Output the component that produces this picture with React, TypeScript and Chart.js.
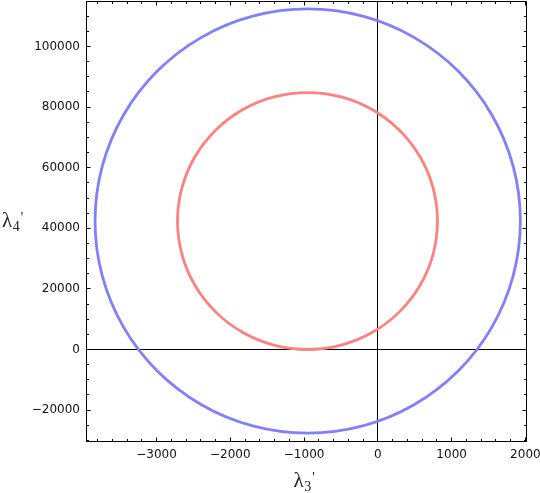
import React, { useEffect, useRef } from "react";
import { Chart, registerables } from "chart.js";

Chart.register(...registerables);

// Tick values
const X_TICKS = [-3000, -2000, -1000, 0, 1000, 2000];
const Y_TICKS = [-20000, 0, 20000, 40000, 60000, 80000, 100000];
const X_MINOR_STEP = 200;
const Y_MINOR_STEP = 5000;
const X_MIN = -3950;
const X_MAX = 2015;
const Y_MIN = -30360;
const Y_MAX = 114850;

// Outer (blue) curve points
const OUTER_X = [1932, 1834, 1546, 1088, 490, -205, -951, -1697, -2392, -2990, -3448, -3736, -3834, -3736, -3448, -2990, -2392, -1697, -951, -205, 490, 1088, 1546, 1834];
const OUTER_Y = [42400, 60516, 77400, 91897, 103022, 110013, 112400, 110013, 103022, 91897, 77400, 60516, 42400, 24284, 7400, -7097, -18222, -25213, -27600, -25213, -18222, -7097, 7400, 24284];

// Inner (red) curve points
const INNER_X = [808, 748, 572, 292, -73, -498, -954, -1410, -1835, -2200, -2480, -2656, -2716, -2656, -2480, -2200, -1835, -1410, -954, -498, -73, 292, 572, 748];
const INNER_Y = [42400, 53373, 63600, 72381, 79118, 83354, 84800, 83354, 79118, 72381, 63600, 53373, 42400, 31427, 21200, 12419, 5682, 1446, 0, 1446, 5682, 12419, 21200, 31427];

const BLUE = "rgb(128,128,250)";
const RED = "rgb(255,128,128)";

function toPoints(xs: number[], ys: number[]) {
  return xs.map((x, i) => ({ x, y: ys[i] }));
}

function fmt(v: number) {
  return v < 0 ? "\u2212" + Math.abs(v) : String(v);
}

function drawLambda(ctx: CanvasRenderingContext2D, x: number, y: number, sub: string) {
  ctx.fillStyle = "#222";
  ctx.textBaseline = "alphabetic";
  ctx.textAlign = "left";
  ctx.font = "21px 'Liberation Serif', 'DejaVu Serif', serif";
  ctx.fillText("\u03bb", x, y);
  const w = ctx.measureText("\u03bb").width;
  ctx.font = "14px 'Liberation Serif', 'DejaVu Serif', serif";
  ctx.fillText(sub, x + w + 0.5, y + 3.5);
  const w2 = ctx.measureText(sub).width;
  ctx.fillText("'", x + w + w2 + 1.5, y - 5.5);
}

// Make every line a closed loop, so the spline wraps smoothly.
const loopPlugin = {
  id: "closedLoops",
  afterDatasetsUpdate(chart: any) {
    chart.data.datasets.forEach((_d: any, i: number) => {
      const line = chart.getDatasetMeta(i).dataset;
      if (!line) return;
      line._loop = true;
      line._fullLoop = true;
      line._pointsUpdated = false;
      delete line._segments;
      line._path = undefined;
    });
  },
};

const framePlugin = {
  id: "mmaFrame",
  beforeDatasetsDraw(chart: any) {
    const { ctx, chartArea, scales } = chart;
    const { left, right, top, bottom } = chartArea;
    const xs = scales.x;
    const ys = scales.y;
    ctx.save();
    ctx.strokeStyle = "#000";
    ctx.lineWidth = 1;
    const px0 = Math.floor(xs.getPixelForValue(0)) + 0.5;
    const py0 = Math.floor(ys.getPixelForValue(0)) + 0.5;
    ctx.beginPath();
    ctx.moveTo(px0, top);
    ctx.lineTo(px0, bottom);
    ctx.moveTo(left, py0);
    ctx.lineTo(right, py0);
    ctx.stroke();
    ctx.restore();
  },
  afterDatasetsDraw(chart: any) {
    const { ctx, chartArea, scales } = chart;
    const { left, right, top, bottom } = chartArea;
    const xs = scales.x;
    const ys = scales.y;
    ctx.save();
    ctx.strokeStyle = "#000";
    ctx.lineWidth = 1;
    ctx.beginPath();
    const xStart = Math.ceil(X_MIN / X_MINOR_STEP) * X_MINOR_STEP;
    for (let v = xStart; v <= X_MAX; v += X_MINOR_STEP) {
      const major = X_TICKS.includes(v);
      const len = major ? 4 : 2.5;
      const p = Math.floor(xs.getPixelForValue(v)) + 0.5;
      ctx.moveTo(p, bottom);
      ctx.lineTo(p, bottom - len);
      ctx.moveTo(p, top);
      ctx.lineTo(p, top + len);
    }
    const yStart = Math.ceil(Y_MIN / Y_MINOR_STEP) * Y_MINOR_STEP;
    for (let v = yStart; v <= Y_MAX; v += Y_MINOR_STEP) {
      const major = Y_TICKS.includes(v);
      const len = major ? 4 : 2.5;
      const p = Math.floor(ys.getPixelForValue(v)) + 0.5;
      ctx.moveTo(left, p);
      ctx.lineTo(left + len, p);
      ctx.moveTo(right, p);
      ctx.lineTo(right - len, p);
    }
    ctx.stroke();
    ctx.strokeRect(left, top, right - left, bottom - top);
    ctx.restore();
  },
  afterDraw(chart: any) {
    const { ctx, chartArea } = chart;
    const cx = (chartArea.left + chartArea.right) / 2;
    ctx.save();
    drawLambda(ctx, cx - 13, 487, "3");
    drawLambda(ctx, 2, 227, "4");
    ctx.restore();
  },
};

export default function App() {
  const ref = useRef<HTMLCanvasElement | null>(null);
  useEffect(() => {
    if (!ref.current) return;
    const tickFont = { family: "'DejaVu Sans', Verdana, sans-serif", size: 12 };
    const chart = new Chart(ref.current, {
      type: "line",
      data: {
        datasets: [
          {
            label: "outer",
            data: toPoints(OUTER_X, OUTER_Y),
            borderColor: BLUE,
            borderWidth: 2.8,
            pointRadius: 0,
            tension: 0.34,
            fill: false,
          },
          {
            label: "inner",
            data: toPoints(INNER_X, INNER_Y),
            borderColor: RED,
            borderWidth: 2.8,
            pointRadius: 0,
            tension: 0.34,
            fill: false,
          },
        ],
      },
      options: {
        animation: false,
        responsive: false,
        layout: { padding: { top: 1.5, right: 13.5, left: 0, bottom: 0 } },
        plugins: { legend: { display: false }, tooltip: { enabled: false } },
        scales: {
          x: {
            type: "linear",
            min: X_MIN,
            max: X_MAX,
            border: { display: false },
            grid: { display: false, drawTicks: false },
            afterBuildTicks: (s: any) => {
              s.ticks = X_TICKS.map((v) => ({ value: v }));
            },
            afterFit: (s: any) => {
              s.height = 51.5;
              s.paddingLeft = 0;
              s.paddingRight = 0;
            },
            ticks: {
              font: tickFont,
              color: "#111",
              padding: 6,
              maxRotation: 0,
              autoSkip: false,
              callback: (v: any) => fmt(Number(v)),
            },
          },
          y: {
            type: "linear",
            min: Y_MIN,
            max: Y_MAX,
            border: { display: false },
            grid: { display: false, drawTicks: false },
            afterBuildTicks: (s: any) => {
              s.ticks = Y_TICKS.map((v) => ({ value: v }));
            },
            afterFit: (s: any) => {
              s.width = 86.5;
              s.paddingTop = 0;
              s.paddingBottom = 0;
            },
            ticks: {
              font: tickFont,
              color: "#111",
              padding: 6.5,
              autoSkip: false,
              callback: (v: any) => fmt(Number(v)),
            },
          },
        },
      },
      plugins: [loopPlugin, framePlugin],
    });
    return () => chart.destroy();
  }, []);
  return (
    <div style={{ position: "fixed", left: 0, top: 0, width: 540, height: 493, background: "#fff" }}>
      <canvas ref={ref} width={540} height={493} style={{ display: "block" }} />
    </div>
  );
}
